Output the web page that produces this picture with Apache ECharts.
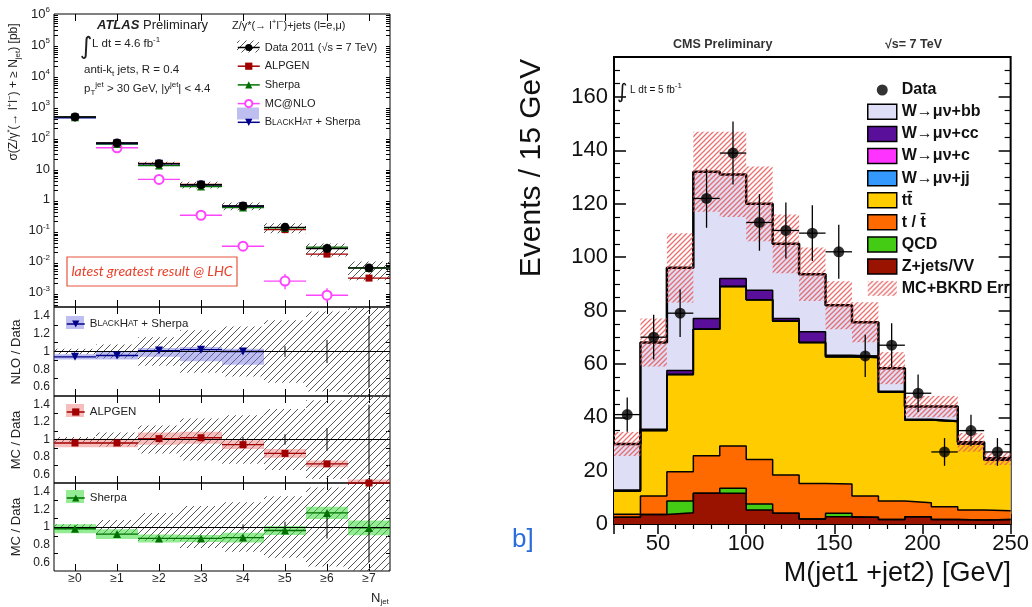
<!DOCTYPE html>
<html><head><meta charset="utf-8">
<script src="https://cdn.jsdelivr.net/npm/echarts@6/dist/echarts.min.js"></script>
<style>html,body{margin:0;padding:0;background:#fff}#c{width:1032px;height:607px}</style>
</head><body><div id="c"></div>
<script>
// ================= LEFT: ATLAS Z+jets =================
const nJetCats = ['≥0','≥1','≥2','≥3','≥4','≥5','≥6','≥7'];
const dataXS     = [478, 69, 14.8, 3.1, 0.64, 0.13, 0.027, 0.0064];
const alpgenXS   = [470, 68, 15, 3.15, 0.61, 0.11, 0.0178, 0.0030];
const sherpaXS   = [465, 64, 12.8, 2.7, 0.57, 0.125, 0.030, 0.0063];
const mcnloXS    = [null, 48, 4.6, 0.32, 0.032, 0.0024, 0.00084, null];
const mcnloErrLo = [null, null, null, null, null, 0.0013, 0.00048, null];
const mcnloErrHi = [null, null, null, null, null, 0.0041, 0.0014, null];
const blackhatXS = [445, 66, 14.7, 3.1, 0.63, null, null, null];
const dataRelErr  = [0.03, 0.08, 0.16, 0.24, 0.28, 0.35, 0.45, 0.6];
const dataStatErr = [0, 0, 0, 0.01, 0.03, 0.06, 0.13, 0.4];
const blackhatRatio  = [0.94, 0.955, 1.01, 1.02, 1.0, null, null, null];
const blackhatBandLo = [0.91, 0.91, 0.94, 0.89, 0.85, null, null, null];
const blackhatBandHi = [0.97, 1.00, 1.04, 1.05, 1.03, null, null, null];
const alpgenRatio    = [0.96, 0.96, 1.01, 1.02, 0.94, 0.84, 0.72, 0.5];
const alpgenBandHalf = [0.05, 0.05, 0.07, 0.07, 0.05, 0.05, 0.04, 0.04];
const sherpaRatio    = [0.98, 0.92, 0.87, 0.87, 0.88, 0.96, 1.16, 0.99];
const sherpaBandHalf = [0.05, 0.055, 0.045, 0.04, 0.055, 0.05, 0.07, 0.085];

// ================= RIGHT: CMS W+bb =================
const massEdges = [25, 40, 55, 70, 85, 100, 115, 130, 145, 160, 175, 190, 205, 220, 235, 250];
const dataEvents    = [41, 70, 79, 122, 139, 113, 110, 109, 102, 63, 67, 49, 27, 35, 27];
const dataEventsErr = [6.4, 8.4, 8.9, 11, 11.8, 10.6, 10.5, 10.4, 10.1, 7.9, 8.2, 7, 5.2, 5.9, 5.2];
const zjetsVV   = [2.5, 3.6, 4.2, 11.5, 11.5, 5.2, 4.0, 1.9, 2.7, 2.5, 1.7, 2.7, 1.7, 1.5, 1.7];
const qcd       = [0, 0, 4.4, 0, 1.9, 2.3, 0, 0, 1.3, 0, 0, 0, 0, 0, 0];
const singleTop = [1.2, 6.9, 11.0, 14.1, 15.8, 16.7, 14.4, 13.3, 11.0, 8.0, 6.9, 5.3, 4.8, 3.7, 3.3];
const ttbar     = [8.7, 24.5, 36.4, 47.4, 59.8, 59.8, 57.6, 52.8, 47.7, 51.9, 40.8, 31, 31.9, 24.8, 19];
const wjj       = [0, 0, 0, 0, 0, 0, 0, 0, 0, 0, 0, 0, 0, 0, 0];
const wc        = [0, 0, 0, 0, 0, 0, 0, 0, 0, 0, 0, 0, 0, 0, 0];
const wcc       = [0.3, 0.5, 1.5, 4, 3, 3.6, 1, 4, 0.5, 0.5, 0.3, 0.3, 0.3, 0.3, 0.3];
const wbb       = [17.3, 32.5, 38.5, 55, 39, 32.4, 28, 21.6, 18.8, 12.7, 8.7, 4.7, 5.3, 0.3, 0.3];
const mcErr     = [4.5, 9, 13, 15, 16, 14, 11, 10, 9, 7.5, 6, 4, 4, 3.5, 2.5];
const layerNames  = ['Z+jets/VV', 'QCD', 't / t\u0304', 'tt\u0304', 'W→μν+jj', 'W→μν+c', 'W→μν+cc', 'W→μν+bb'];
const layerColors = ['#9a1200', '#44cc14', '#ff6a00', '#ffcc00', '#3399ff', '#ff33ff', '#5a0f9a', '#dedef6'];

// ---------- helpers ----------
const FONT = 'Liberation Sans';
function hatch(color, s, lw) {
  const c = document.createElement('canvas'); c.width = s; c.height = s;
  const g = c.getContext('2d'); g.strokeStyle = color; g.lineWidth = lw;
  g.beginPath();
  g.moveTo(0, s); g.lineTo(s, 0);
  g.moveTo(-s / 2, s / 2); g.lineTo(s / 2, -s / 2);
  g.moveTo(s / 2, s * 1.5); g.lineTo(s * 1.5, s / 2);
  g.stroke();
  return { image: c, repeat: 'repeat' };
}
const grayHatch = hatch('#555', 7, 1);
const redHatch = hatch('rgba(232,95,95,0.9)', 5, 1.3);

function halfBin(api, v) { return (api.coord([1, v])[0] - api.coord([0, v])[0]) / 2; }
function binLineRender(color, lw) {
  return (p, api) => {
    const i = api.value(0), v = api.value(1);
    const c = api.coord([i, v]); const h = halfBin(api, v);
    return { type: 'line', shape: { x1: c[0] - h, y1: c[1], x2: c[0] + h, y2: c[1] }, style: { stroke: color, lineWidth: lw } };
  };
}
function bandRender(fill) {
  return (p, api) => {
    const i = api.value(0);
    const t = api.coord([i, api.value(2)]), b = api.coord([i, api.value(1)]);
    const h = halfBin(api, api.value(1));
    return { type: 'rect', shape: { x: t[0] - h, y: t[1], width: 2 * h, height: b[1] - t[1] }, style: { fill } };
  };
}
function vbarRender(color, lw) {
  return (p, api) => {
    const i = api.value(0);
    const a = api.coord([i, api.value(1)]), b = api.coord([i, api.value(2)]);
    return { type: 'line', shape: { x1: a[0], y1: a[1], x2: b[0], y2: b[1] }, style: { stroke: color, lineWidth: lw } };
  };
}
function pts(vals) { return vals.map((v, i) => v == null ? null : [i, v]).filter(Boolean); }

// ---------- grids ----------
const grids = [
  { left: 54, top: 14, width: 336, height: 293 },
  { left: 54, top: 307, width: 336, height: 89 },
  { left: 54, top: 396, width: 336, height: 87 },
  { left: 54, top: 483, width: 336, height: 88 },
  { left: 614, top: 57, width: 397, height: 467 }
].map(g => Object.assign({ show: true, borderColor: '#000', borderWidth: 1, backgroundColor: 'transparent' }, g));
grids[4].borderWidth = 2;

// ---------- axes ----------
const xAxis = [];
for (let g = 0; g < 4; g++) {
  ['bottom', 'top'].forEach(pos => xAxis.push({
    type: 'category', gridIndex: g, position: pos, data: nJetCats, boundaryGap: true,
    axisLine: { show: false },
    axisTick: { show: true, inside: true, alignWithLabel: true, length: 7, lineStyle: { color: '#000' } },
    axisLabel: { show: g === 3 && pos === 'bottom', fontSize: 12, color: '#222', margin: 2 },
    splitLine: { show: false }
  }));
}
['bottom', 'top'].forEach(pos => xAxis.push({
  type: 'value', gridIndex: 4, position: pos, min: 25, max: 250, splitNumber: 5,
  axisLine: { show: false },
  axisTick: { inside: true, length: 10, lineStyle: { color: '#000', width: 1.5 } },
  minorTick: { show: true, splitNumber: 5, length: 5, lineStyle: { color: '#000', width: 1.2 } },
  axisLabel: { show: pos === 'bottom', fontSize: 22, color: '#111', margin: 9, showMinLabel: false },
  splitLine: { show: false }, minorSplitLine: { show: false }
}));

const yAxis = [];
['left', 'right'].forEach(pos => yAxis.push({
  type: 'log', logBase: 10, gridIndex: 0, position: pos, min: 3.5e-4, max: 1e6, splitNumber: 10,
  axisLine: { show: false },
  axisTick: { inside: true, length: 8, lineStyle: { color: '#000' } },
  minorTick: { show: true, splitNumber: 9, length: 4, lineStyle: { color: '#000' } },
  splitLine: { show: false }, minorSplitLine: { show: false },
  axisLabel: {
    show: pos === 'left', fontSize: 13, color: '#222', margin: 4, showMinLabel: false, lineHeight: 16,
    formatter: v => { const e = Math.round(Math.log10(v)); if (e === 0) return '1'; if (e === 1) return '10'; return '10{sup|' + e + '}'; },
    rich: { sup: { fontSize: 8, verticalAlign: 'top', color: '#222' } }
  }
}));
for (let g = 1; g < 4; g++) {
  ['left', 'right'].forEach(pos => yAxis.push({
    type: 'value', gridIndex: g, position: pos, min: 0.5, max: 1.5, splitNumber: 5,
    axisLine: { show: false },
    axisTick: { inside: true, length: 7, lineStyle: { color: '#000' } },
    minorTick: { show: true, splitNumber: 2, length: 4, lineStyle: { color: '#000' } },
    splitLine: { show: false }, minorSplitLine: { show: false },
    axisLabel: { show: pos === 'left', fontSize: 12, color: '#222', margin: 4, showMinLabel: false, showMaxLabel: false }
  }));
}
['left', 'right'].forEach(pos => yAxis.push({
  type: 'value', gridIndex: 4, position: pos, min: 0, max: 175, interval: 20,
  axisLine: { show: false },
  axisTick: { inside: true, length: 12, lineStyle: { color: '#000', width: 1.5 } },
  minorTick: { show: true, splitNumber: 4, length: 6, lineStyle: { color: '#000', width: 1.2 } },
  splitLine: { show: false }, minorSplitLine: { show: false },
  axisLabel: { show: pos === 'left', fontSize: 22, color: '#111', margin: 6, showMaxLabel: false }
}));

// ---------- series: left top panel ----------
const series = [];
const T = { xAxisIndex: 0, yAxisIndex: 0 };
series.push(Object.assign({ type: 'custom', name: 'data unc top', clip: true, z: 1, renderItem: bandRender(grayHatch), encode: { x: 0, y: [1, 2] },
  data: dataXS.map((v, i) => [i, v * (1 - dataRelErr[i]), v * (1 + dataRelErr[i])]) }, T));
const topModels = [
  { name: 'MC@NLO', vals: mcnloXS, color: '#ff44ff', symbol: 'emptyCircle', size: 9 },
  { name: 'ALPGEN', vals: alpgenXS, color: '#a00000', symbol: 'rect', size: 7 },
  { name: 'Sherpa', vals: sherpaXS, color: '#007000', symbol: 'triangle', size: 8 },
  { name: 'BlackHat + Sherpa', vals: blackhatXS, color: '#000088', symbol: 'triangle', size: 8, rot: 180 },
  { name: 'Data 2011 (√s = 7 TeV)', vals: dataXS, color: '#000', symbol: 'circle', size: 9 }
];
topModels.forEach(m => series.push(Object.assign({ type: 'custom', name: m.name + ' bins', z: 2, renderItem: binLineRender(m.color, 1.4), encode: { x: 0, y: 1 }, data: pts(m.vals) }, T)));
series.push(Object.assign({ type: 'custom', name: 'MC@NLO err', z: 2, clip: true, renderItem: vbarRender('#ff44ff', 1.4), encode: { x: 0, y: [1, 2] },
  data: mcnloErrLo.map((lo, i) => lo == null ? null : [i, lo, mcnloErrHi[i]]).filter(Boolean) }, T));
topModels.forEach(m => series.push(Object.assign({
  type: 'line', name: m.name, data: m.vals, color: m.color, symbol: m.symbol, symbolSize: m.size, symbolRotate: m.rot || 0,
  showSymbol: true, lineStyle: { opacity: 0 }, itemStyle: { color: m.color, borderWidth: m.symbol === 'emptyCircle' ? 1.5 : 0 }, z: 3
}, T)));

// ---------- series: ratio panels ----------
function ratioPanel(g, name, vals, lo, hi, color, bandFill, symbol, size, rot) {
  const A = { xAxisIndex: 2 * g, yAxisIndex: 2 * g };
  series.push(Object.assign({ type: 'custom', name: 'data unc ' + g, clip: true, z: 1, renderItem: bandRender(grayHatch), encode: { x: 0, y: [1, 2] },
    data: dataRelErr.map((e, i) => [i, 1 - e, 1 + e]) }, A));
  series.push(Object.assign({ type: 'custom', name: name + ' band', clip: true, z: 2, renderItem: bandRender(bandFill), encode: { x: 0, y: [1, 2] },
    data: vals.map((v, i) => v == null ? null : [i, lo[i], hi[i]]).filter(Boolean) }, A));
  series.push(Object.assign({ type: 'custom', name: 'data stat ' + g, clip: true, z: 3, renderItem: vbarRender('#000', 1), encode: { x: 0, y: [1, 2] },
    data: dataStatErr.map((e, i) => e > 0 ? [i, 1 - e, 1 + e] : null).filter(Boolean) }, A));
  series.push(Object.assign({ type: 'custom', name: name + ' bins', z: 4, renderItem: binLineRender(color, 1.3), encode: { x: 0, y: 1 }, data: pts(vals) }, A));
  series.push(Object.assign({
    type: 'line', name, data: vals, color, symbol, symbolSize: size, symbolRotate: rot || 0, showSymbol: true,
    lineStyle: { opacity: 0 }, itemStyle: { color }, z: 5,
    markLine: { silent: true, symbol: 'none', label: { show: false }, lineStyle: { color: '#000', width: 1, type: 'solid' }, data: [{ yAxis: 1 }] }
  }, A));
}
ratioPanel(1, 'BlackHat + Sherpa / Data', blackhatRatio, blackhatBandLo, blackhatBandHi, '#000088', 'rgba(110,110,225,0.45)', 'triangle', 8, 180);
ratioPanel(2, 'ALPGEN / Data', alpgenRatio, alpgenRatio.map((v, i) => v - alpgenBandHalf[i]), alpgenRatio.map((v, i) => v + alpgenBandHalf[i]), '#a00000', 'rgba(238,110,110,0.45)', 'rect', 7);
ratioPanel(3, 'Sherpa / Data', sherpaRatio, sherpaRatio.map((v, i) => v - sherpaBandHalf[i]), sherpaRatio.map((v, i) => v + sherpaBandHalf[i]), '#007000', 'rgba(60,220,60,0.55)', 'triangle', 8);

// ---------- series: right chart ----------
const R = { xAxisIndex: 8, yAxisIndex: 8 };
const stackOrder = [zjetsVV, qcd, singleTop, ttbar, wjj, wc, wcc, wbb];
const cum = []; let run = zjetsVV.map(() => 0);
stackOrder.forEach(arr => { run = run.map((v, i) => v + arr[i]); cum.push(run.slice()); });
const total = cum[cum.length - 1];
const nb = dataEvents.length;
for (let k = stackOrder.length - 1; k >= 0; k--) {
  series.push(Object.assign({
    type: 'line', name: layerNames[k], step: 'end', symbol: 'none', color: layerColors[k],
    data: massEdges.map((e, i) => [e, cum[k][Math.min(i, nb - 1)]]),
    lineStyle: { color: '#000', width: k === stackOrder.length - 1 ? 2.5 : 1.5 },
    areaStyle: { color: layerColors[k], opacity: 1 }, itemStyle: { color: layerColors[k] }, z: 2
  }, R));
}
series.push(Object.assign({
  type: 'custom', name: 'MC+BKRD Err', z: 3, itemStyle: { color: redHatch }, encode: { x: [0, 1], y: [2, 3] },
  data: total.map((t, i) => [massEdges[i], massEdges[i + 1], t - mcErr[i], t + mcErr[i]]),
  renderItem: (p, api) => {
    const a = api.coord([api.value(0), api.value(3)]), b = api.coord([api.value(1), api.value(2)]);
    return { type: 'rect', shape: { x: a[0], y: a[1], width: b[0] - a[0], height: b[1] - a[1] }, style: { fill: redHatch } };
  }
}, R));
series.push(Object.assign({
  type: 'custom', name: 'Data errors', z: 4, encode: { x: [0, 1], y: 2 },
  data: dataEvents.map((v, i) => [massEdges[i], massEdges[i + 1], v, dataEventsErr[i]]),
  renderItem: (p, api) => {
    const x0 = api.value(0), x1 = api.value(1), v = api.value(2), e = api.value(3), xm = (x0 + x1) / 2;
    const a = api.coord([xm, v - e]), b = api.coord([xm, v + e]), l = api.coord([x0, v]), r = api.coord([x1, v]);
    return { type: 'group', children: [
      { type: 'line', shape: { x1: a[0], y1: a[1], x2: b[0], y2: b[1] }, style: { stroke: '#000', lineWidth: 1.3 } },
      { type: 'line', shape: { x1: l[0], y1: l[1], x2: r[0], y2: r[1] }, style: { stroke: '#000', lineWidth: 1.3 } }
    ] };
  }
}, R));
series.push(Object.assign({
  type: 'scatter', name: 'Data', symbol: 'circle', symbolSize: 11, itemStyle: { color: '#000' }, z: 5,
  data: dataEvents.map((v, i) => [(massEdges[i] + massEdges[i + 1]) / 2, v])
}, R));

// ---------- legends ----------
const scRich = { sc: { fontSize: 8.5, color: '#222' } };
const dotIcon = 'path://M0,0L0,0M15,15L15,15M13,7.5A5.5,5.5,0,1,1,2,7.5A5.5,5.5,0,1,1,13,7.5Z';
const legend = [
  { data: ['Data 2011 (√s = 7 TeV)', 'ALPGEN', 'Sherpa', 'MC@NLO', 'BlackHat + Sherpa'], orient: 'vertical', left: 237, top: 42, padding: 0,
    itemWidth: 22, itemHeight: 9, itemGap: 7.7, selectedMode: false, lineStyle: { opacity: 1, width: 1.5 },
    textStyle: { fontSize: 11, color: '#222', fontFamily: FONT, rich: scRich },
    formatter: n => n === 'BlackHat + Sherpa' ? 'B{sc|LACK}H{sc|AT} + Sherpa' : n },
  { data: ['BlackHat + Sherpa / Data'], left: 66, top: 318, padding: 0, itemWidth: 18, itemHeight: 9, selectedMode: false, lineStyle: { opacity: 1, width: 1.5 },
    textStyle: { fontSize: 11.5, color: '#222', fontFamily: FONT, rich: scRich }, formatter: () => 'B{sc|LACK}H{sc|AT} + Sherpa' },
  { data: ['ALPGEN / Data'], left: 66, top: 406, padding: 0, itemWidth: 18, itemHeight: 9, selectedMode: false, lineStyle: { opacity: 1, width: 1.5 },
    textStyle: { fontSize: 11.5, color: '#222', fontFamily: FONT }, formatter: () => 'ALPGEN' },
  { data: ['Sherpa / Data'], left: 66, top: 492, padding: 0, itemWidth: 18, itemHeight: 9, selectedMode: false, lineStyle: { opacity: 1, width: 1.5 },
    textStyle: { fontSize: 11.5, color: '#222', fontFamily: FONT }, formatter: () => 'Sherpa' },
  { data: [{ name: 'Data', icon: dotIcon, itemStyle: { borderWidth: 0 } }, 'W→μν+bb', 'W→μν+cc', 'W→μν+c', 'W→μν+jj', 'tt\u0304', 't / t\u0304', 'QCD', 'Z+jets/VV',
      { name: 'MC+BKRD Err', itemStyle: { borderWidth: 0 } }],
    orient: 'vertical', left: 867, top: 82, padding: 0, icon: 'rect', itemWidth: 29, itemHeight: 15, itemGap: 5.6, selectedMode: false,
    itemStyle: { borderColor: '#000', borderWidth: 1.5 },
    textStyle: { fontSize: 16, fontWeight: 'bold', color: '#111', fontFamily: FONT } }
];

// ---------- text & decorations ----------
const supsub = { sup: { fontSize: 8, verticalAlign: 'top', fill: '#222' }, sub: { fontSize: 8, verticalAlign: 'bottom', fill: '#222' } };
function txt(x, y, text, style, rot) {
  return { type: 'text', x, y, rotation: rot || 0, z: 100,
    style: Object.assign({ text, fill: '#222', fontSize: 12, fontFamily: FONT, align: 'left', verticalAlign: 'middle', lineHeight: 16, rich: supsub }, style || {}) };
}
const graphic = [
  { type: 'rect', z: 0, shape: { x: 237, y: 40.5, width: 22, height: 12 }, style: { fill: grayHatch } },
  { type: 'rect', z: 0, shape: { x: 237, y: 107.5, width: 22, height: 12 }, style: { fill: 'rgba(110,110,225,0.45)' } },
  { type: 'rect', z: 0, shape: { x: 66, y: 316, width: 18, height: 13 }, style: { fill: 'rgba(110,110,225,0.45)' } },
  { type: 'rect', z: 0, shape: { x: 66, y: 404, width: 18, height: 13 }, style: { fill: 'rgba(238,110,110,0.45)' } },
  { type: 'rect', z: 0, shape: { x: 66, y: 490, width: 18, height: 13 }, style: { fill: 'rgba(60,220,60,0.55)' } },
  txt(97, 25, '{b|ATLAS} Preliminary', { fontSize: 13, rich: { b: { fontSize: 13, fontWeight: 'bold', fontStyle: 'italic', fontFamily: FONT, fill: '#222' } } }),
  txt(80, 48, '∫', { fontSize: 24, fontFamily: 'DejaVu Sans' }),
  txt(92, 44, 'L dt = 4.6 fb{sup|-1}', { fontSize: 11.5 }),
  txt(84, 70, 'anti-k{sub|t} jets, R = 0.4', { fontSize: 11.5 }),
  txt(84, 89, 'p{sub|T}{sup|jet} > 30 GeV, |y{sup|jet}| < 4.4', { fontSize: 11.5 }),
  txt(232, 26, 'Z/γ*(→ l{sup|+}l{sup|−})+jets (l=e,μ)', { fontSize: 11 }),
  { type: 'rect', z: 99, shape: { x: 67, y: 257, width: 170, height: 29 }, style: { fill: 'none', stroke: '#e8553f', lineWidth: 1.2 } },
  txt(152, 271.5, 'latest greatest result @ LHC', { align: 'center', fontStyle: 'italic', fontSize: 14, fill: '#e8402a', fontFamily: 'Lato' }),
  txt(14, 92, 'σ(Z/γ{sup|*}(→ l{sup|+}l{sup|−}) + ≥ N{sub|jet}) [pb]', { align: 'center', fontSize: 12 }, Math.PI / 2),
  txt(16, 352, 'NLO / Data', { align: 'center', fontSize: 13 }, Math.PI / 2),
  txt(16, 440, 'MC / Data', { align: 'center', fontSize: 13 }, Math.PI / 2),
  txt(16, 527, 'MC / Data', { align: 'center', fontSize: 13 }, Math.PI / 2),
  txt(371, 598, 'N{sub|jet}', { fontSize: 13 }),
  txt(673, 45, 'CMS Preliminary', { fontSize: 12.5, fontWeight: 'bold', fill: '#333' }),
  txt(885, 45, '√s= 7 TeV', { fontSize: 12.5, fontWeight: 'bold', fill: '#333' }),
  txt(617, 93, '∫', { fontSize: 20, fontFamily: 'DejaVu Sans', fill: '#111' }),
  txt(630, 90, 'L dt = 5 fb{sup|-1}', { fontSize: 10, fill: '#111' }),
  txt(532, 168, 'Events / 15 GeV', { align: 'center', fontSize: 30, fill: '#111', lineHeight: 34 }, Math.PI / 2),
  txt(1011, 574, 'M(jet1 +jet2) [GeV]', { align: 'right', fontSize: 27, fill: '#111', lineHeight: 30 }),
  txt(512, 540, 'b]', { fontSize: 26, fill: '#2a6ddb', lineHeight: 30 })
];

const chart = echarts.init(document.getElementById('c'), null, { renderer: 'canvas' });
chart.setOption({
  animation: false,
  backgroundColor: '#fff',
  textStyle: { fontFamily: FONT },
  grid: grids, xAxis, yAxis, legend, series, graphic
});
</script></body></html>
